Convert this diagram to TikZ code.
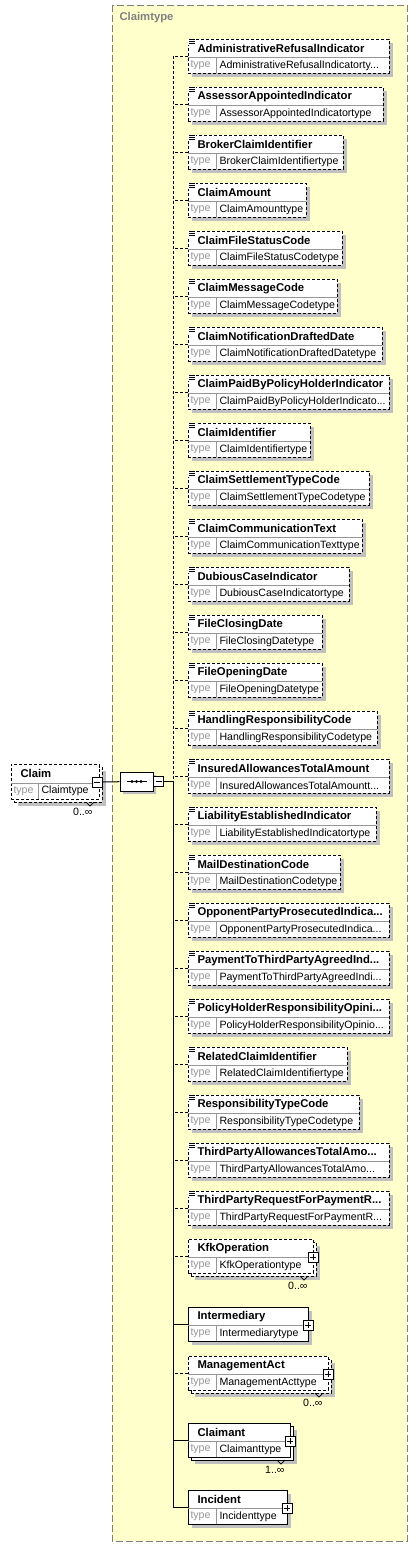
\documentclass[tikz,border=0pt]{standalone}
\usepackage{fontspec}
\setmainfont{Liberation Sans}
\usetikzlibrary{shapes.misc,shadows}

\definecolor{cplxyellow}{RGB}{255,255,204}
\definecolor{shadowgray}{RGB}{192,192,192}
\definecolor{framegray}{RGB}{128,128,128}
\definecolor{typegray}{RGB}{150,150,150}
\newcommand{\trdots}{...}

\begin{document}
\begin{tikzpicture}[x=1pt,y=-1pt,line width=1pt,
    opt/.style={dash pattern=on 3pt off 2pt},
    req/.style={solid},
    boxshadow/.style={drop shadow={shadow xshift=4pt,shadow yshift=-4pt,fill=shadowgray,opacity=1}},
    elbox/.style={draw,fill=white,inner sep=0,outer sep=0,anchor=north west,minimum height=34pt},
    nm/.style={anchor=west,inner sep=0,font=\fontsize{11.3}{13}\selectfont\bfseries},
    tp/.style={anchor=west,inner sep=0,font=\fontsize{10.6}{12}\selectfont},
    tplabel/.style={tp,text=typegray},
    sep/.style={draw=typegray,line width=0.8pt,solid},
    minusbox/.style={draw,fill=white,solid,minimum size=10pt,inner sep=0,
      path picture={\draw[line width=0.8pt] ([xshift=2pt]path picture bounding box.west) -- ([xshift=-2pt]path picture bounding box.east);}},
    plusbox/.style={draw,fill=white,solid,minimum size=10pt,inner sep=0,
      path picture={\draw[line width=0.8pt] ([xshift=2pt]path picture bounding box.west) -- ([xshift=-2pt]path picture bounding box.east)
        ([yshift=-2pt]path picture bounding box.north) -- ([yshift=2pt]path picture bounding box.south);}},
  ]
  \useasboundingbox (0,0) rectangle (418,1547);

  % complex type frame
  \draw[draw=framegray,fill=cplxyellow,dash pattern=on 7pt off 3pt] (112,5) rectangle (407,1541);
  \node[nm,text=framegray] (ctname) at (119,18) {Claimtype};

  % root element
  \node[elbox,opt,boxshadow,minimum width=88pt,minimum height=35pt] (claimback) at (14,767) {};
  \node[elbox,opt,minimum width=88pt,minimum height=35pt] (claim) at (11,764) {};
  \draw[sep] (11,783) -- (99,783) (38,783) -- (38,799);
  \node[nm] (claimname) at (20,773.5) {Claim};
  \node[tplabel] (claimtl) at (13,791) {type};
  \node[tp] (claimtp) at (41,791) {Claimtype};
  \node[minusbox] (claimminus) at (97,782) {};
  \draw[line width=0.7pt] (86,802) -- (90,806) -- (94,802);
  \node[tp,anchor=east] (claimcard) at (93,812) {0..∞};

  % sequence compositor
  \node[chamfered rectangle,chamfered rectangle xsep=6pt,draw,fill=white,minimum width=33pt,minimum height=19pt,inner sep=0,
    drop shadow={shadow xshift=3pt,shadow yshift=-3pt,fill=shadowgray,opacity=1}] (seq) at (136.5,781.5) {};
  \draw (126.5,781.5) -- (146.5,781.5);
  \foreach \x in {132,136.5,141} {
      \fill (\x,781.5) circle (1.7pt);
    }
  \node[minusbox] (seqminus) at (158.5,781.5) {};
  \coordinate (bus) at (173,781.5);
  \draw (claimminus) -- (seq);
  \draw (seqminus) -- (bus);

  % simple elements
  \foreach \nm/\tp/\R [count=\i] in {
      AdministrativeRefusalIndicator/AdministrativeRefusalIndicatorty\trdots/389,
      AssessorAppointedIndicator/AssessorAppointedIndicatortype/383,
      BrokerClaimIdentifier/BrokerClaimIdentifiertype/343,
      ClaimAmount/ClaimAmounttype/306,
      ClaimFileStatusCode/ClaimFileStatusCodetype/342,
      ClaimMessageCode/ClaimMessageCodetype/337,
      ClaimNotificationDraftedDate/ClaimNotificationDraftedDatetype/382,
      ClaimPaidByPolicyHolderIndicator/ClaimPaidByPolicyHolderIndicato\trdots/389,
      ClaimIdentifier/ClaimIdentifiertype/310,
      ClaimSettlementTypeCode/ClaimSettlementTypeCodetype/369,
      ClaimCommunicationText/ClaimCommunicationTexttype/362,
      DubiousCaseIndicator/DubiousCaseIndicatortype/349,
      FileClosingDate/FileClosingDatetype/322,
      FileOpeningDate/FileOpeningDatetype/322,
      HandlingResponsibilityCode/HandlingResponsibilityCodetype/377,
      InsuredAllowancesTotalAmount/InsuredAllowancesTotalAmountt\trdots/389,
      LiabilityEstablishedIndicator/LiabilityEstablishedIndicatortype/376,
      MailDestinationCode/MailDestinationCodetype/340,
      OpponentPartyProsecutedIndica\trdots/OpponentPartyProsecutedIndica\trdots/389,
      PaymentToThirdPartyAgreedInd\trdots/PaymentToThirdPartyAgreedIndi\trdots/389,
      PolicyHolderResponsibilityOpini\trdots/PolicyHolderResponsibilityOpinio\trdots/389,
      RelatedClaimIdentifier/RelatedClaimIdentifiertype/347,
      ResponsibilityTypeCode/ResponsibilityTypeCodetype/359,
      ThirdPartyAllowancesTotalAmo\trdots/ThirdPartyAllowancesTotalAmo\trdots/389,
      ThirdPartyRequestForPaymentR\trdots/ThirdPartyRequestForPaymentR\trdots/389} {
      \pgfmathtruncatemacro\T{39+48*(\i-1)}
      \node[elbox,opt,boxshadow,minimum width=\R-188] (e\i) at (188,\T) {};
      \draw[sep] (188,\T+18) -- (\R,\T+18) (216,\T+18) -- (216,\T+34);
      \node[nm] (n\i) at (197,\T+9.5) {\nm};
      \node[tplabel] (l\i) at (190,\T+26.5) {type};
      \node[tp] (t\i) at (219,\T+26.5) {\tp};
      \fill[white] (187.5,\T-0.5) rectangle (195.5,\T+6);
      \draw[line width=0.7pt] (189,\T+0.5) -- +(6,0) (189,\T+2.5) -- +(6,0) (189,\T+4.5) -- +(6,0);
      \draw[opt] (e\i.west) -- (e\i.west -| bus);
    }

  % complex elements with multiplicity
  \foreach \nm/\tp/\T/\R/\bs/\card [count=\i] in {
      KfkOperation/KfkOperationtype/1239/313/opt/0..∞,
      ManagementAct/ManagementActtype/1356/328/opt/0..∞,
      Claimant/Claimanttype/1423/290/req/1..∞} {
      \node[elbox,\bs,boxshadow,minimum width=\R-188] (b\i) at (191,\T+3) {};
      \node[elbox,\bs,minimum width=\R-188] (c\i) at (188,\T) {};
      \draw[sep] (188,\T+18) -- (\R,\T+18) (216,\T+18) -- (216,\T+34);
      \node[nm] (cn\i) at (197,\T+9.5) {\nm};
      \node[tplabel] (cl\i) at (190,\T+26.5) {type};
      \node[tp] (ct\i) at (219,\T+26.5) {\tp};
      \node[plusbox] (cp\i) at (\R,\T+18) {};
      \draw[line width=0.7pt] (\R-13,\T+37) -- (\R-9,\T+41) -- (\R-5,\T+37);
      \node[tp,anchor=east] (cm\i) at (\R-5,\T+47) {\card};
      \draw[\bs] (c\i.west) -- (c\i.west -| bus);
    }

  % complex elements, single
  \foreach \nm/\tp/\T/\R [count=\i] in {
      Intermediary/Intermediarytype/1307/308,
      Incident/Incidenttype/1490/287} {
      \node[elbox,boxshadow,minimum width=\R-188] (d\i) at (188,\T) {};
      \draw[sep] (188,\T+18) -- (\R,\T+18) (216,\T+18) -- (216,\T+34);
      \node[nm] (dn\i) at (197,\T+9.5) {\nm};
      \node[tplabel] (dl\i) at (190,\T+26.5) {type};
      \node[tp] (dt\i) at (219,\T+26.5) {\tp};
      \node[plusbox] (dp\i) at (\R,\T+18) {};
      \draw (d\i.west) -- (d\i.west -| bus);
    }

  % vertical bus
  \draw[opt] (e1.west -| bus) -- (bus);
  \draw (bus) -- (d2.west -| bus);
\end{tikzpicture}
\end{document}
